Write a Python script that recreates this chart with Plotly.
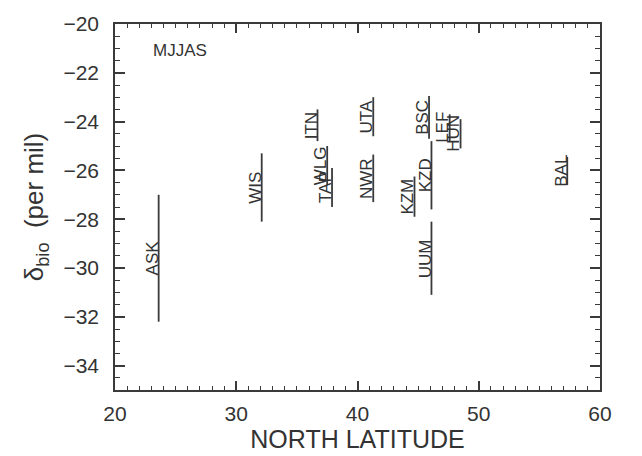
import plotly.graph_objects as go

stations = ["ASK", "WIS", "ITN", "WLG", "TAP", "UTA", "NWR", "BSC", "KZM", "KZD", "UUM", "LEF", "HUN", "BAL"]
latitude = [23.6, 32.1, 36.7, 37.5, 37.9, 41.3, 41.3, 45.9, 44.7, 46.1, 46.1, 47.6, 48.5, 57.3]
delta_top = [-27.0, -25.3, -23.5, -25.0, -25.9, -23.0, -25.35, -22.95, -26.25, -24.8, -28.1, -23.7, -23.9, -25.45]
delta_bottom = [-32.2, -28.1, -24.8, -26.6, -27.5, -24.6, -27.3, -24.7, -27.9, -27.6, -31.1, -24.8, -25.1, -26.6]

x_range = [20, 60]
y_range = [-35, -20]
x_major_step = 10
y_major_step = 2
x_minor_step = 1
y_minor_step = 0.5
season_label = "MJJAS"

line_color = "#3a3a3a"
text_color = "#333333"
font_family = "Liberation Sans, Arial, sans-serif"

fig = go.Figure()

xs, ys = [], []
for lat, t, b in zip(latitude, delta_top, delta_bottom):
    xs += [lat, lat, None]
    ys += [t, b, None]
fig.add_trace(go.Scatter(x=xs, y=ys, mode="lines",
                         line=dict(color=line_color, width=1.8),
                         hoverinfo="skip", showlegend=False))

for name, lat, t, b in zip(stations, latitude, delta_top, delta_bottom):
    fig.add_annotation(x=lat, y=(t + b) / 2, text=name, textangle=-90,
                       xanchor="right", yanchor="middle", showarrow=False,
                       xshift=4, borderpad=0,
                       font=dict(family=font_family, size=17, color=text_color))

fig.add_annotation(x=23.0, y=-21.1, text=season_label, xanchor="left", yanchor="middle",
                   showarrow=False, font=dict(family=font_family, size=17, color=text_color))

axis_common = dict(showgrid=False, zeroline=False, showline=True, linecolor=line_color,
                   linewidth=1.5, mirror="ticks", ticks="inside", tickcolor=line_color,
                   tickmode="linear",
                   tickfont=dict(family=font_family, size=21, color=text_color))

fig.update_layout(
    xaxis=dict(range=x_range, tick0=x_range[0], dtick=x_major_step, ticklen=9, tickwidth=1.5,
               ticklabelstandoff=4,
               minor=dict(dtick=x_minor_step, ticks="inside", ticklen=4, tickwidth=1.2,
                          tickcolor=line_color, showgrid=False),
               title=dict(text="NORTH LATITUDE", standoff=2,
                          font=dict(family=font_family, size=25, color=text_color)),
               **axis_common),
    yaxis=dict(range=y_range, tick0=y_range[1], dtick=y_major_step, ticklen=10, tickwidth=1.5,
               ticklabelstandoff=10,
               minor=dict(dtick=y_minor_step, ticks="inside", ticklen=5, tickwidth=1.2,
                          tickcolor=line_color, showgrid=False),
               title=dict(text="\u03b4<sub>bio</sub>  (per mil)", standoff=12,
                          font=dict(family=font_family, size=26, color=text_color)),
               **axis_common),
    width=642, height=456, margin=dict(l=115, r=42, t=17, b=60),
    plot_bgcolor="white", paper_bgcolor="white",
)

fig.write_html("out.html")
